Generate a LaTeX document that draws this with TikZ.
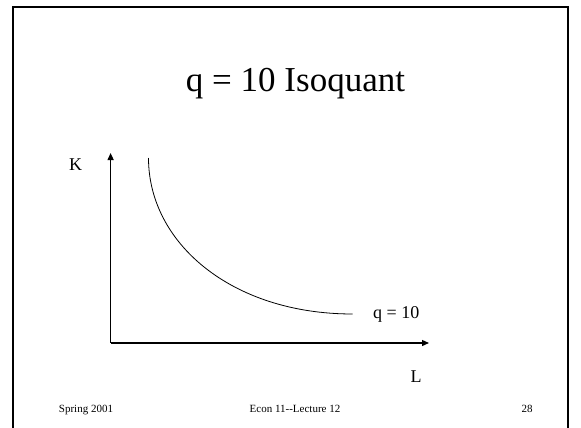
\documentclass[tikz,border=0pt]{standalone}
\usepackage{fontspec}
\setmainfont{Liberation Serif}
\usetikzlibrary{arrows.meta}

\begin{document}
\begin{tikzpicture}[
    x=1pt, y=-1pt,
    frame/.style={line width=2.2pt},
    axis/.style={-{Triangle[length=7pt,width=6pt]}, line width=1.3pt},
    isoquant/.style={line width=0.8pt},
    title/.style={font=\fontsize{35}{40}\selectfont, inner sep=0pt, anchor=base},
    lbl/.style={font=\fontsize{18}{20}\selectfont, inner sep=0pt},
    foot/.style={font=\fontsize{11}{12}\selectfont, inner sep=0pt, anchor=base}
]
\useasboundingbox (0,0) rectangle (581,428);
% slide frame
\draw[frame] (13,428) |- (568,7) -- (568,428);

\node[title] (ttl) at (295.5,92) {q = 10 Isoquant};

% axes
\coordinate (o) at (110.6,343);
\coordinate (ktop) at (110.6,153);
\coordinate (lend) at (429,343);
\draw[axis] (o) -- (ktop);
\draw[axis] (o) -- (lend);
\node[lbl] (k) at (75.5,164.5) {K};
\node[lbl] (l) at (416,377) {L};

% isoquant
\coordinate (c0) at (148.5,158);
\coordinate (c1) at (352.6,314);
\draw[isoquant] (c0) .. controls (148.5,243) and (231.6,314) .. (c1);
\node[lbl, anchor=base west] (q) at (373,318) {q = 10};

% footer
\node[foot] (f1) at (86,412) {Spring 2001};
\node[foot] (f2) at (295,412) {Econ 11{-}{-}Lecture 12};
\node[foot] (f3) at (527,412) {28};
\end{tikzpicture}
\end{document}
